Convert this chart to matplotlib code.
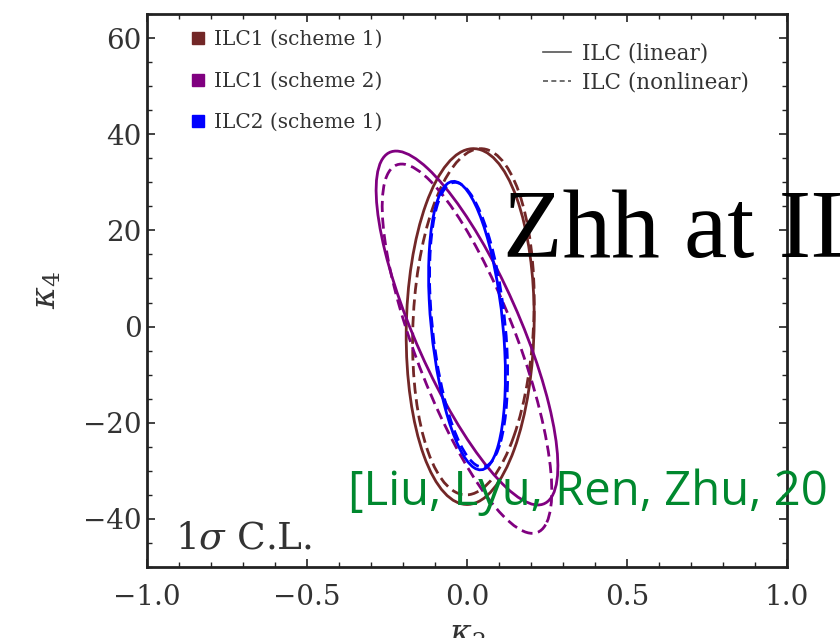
import numpy as np
import matplotlib
matplotlib.use('Agg')
import matplotlib.pyplot as plt
from matplotlib.patches import Ellipse
from matplotlib.lines import Line2D
from matplotlib.ticker import MultipleLocator, FuncFormatter
import matplotlib.transforms as transforms

plt.rcParams['font.family'] = 'DejaVu Serif'
plt.rcParams['mathtext.fontset'] = 'dejavuserif'

# 1 sigma contours:
# centre (k2, k4), half width in k2, half height in k4, correlation
labels = ['ILC1 (scheme 1)', 'ILC1 (scheme 2)', 'ILC2 (scheme 1)']
colors = ['#722727', '#800080', '#0000ff']
lin_center = [(0.01, 0.0), (0.0, -0.3), (0.0, 0.2)]
lin_half_k2 = [0.20, 0.284, 0.12]
lin_half_k4 = [37.0, 36.8, 30.0]
lin_rho = [0.05, -0.78, -0.35]
nl_center = [(0.02, 1.0), (0.0, -4.6), (0.005, 0.4)]
nl_half_k2 = [0.19, 0.265, 0.122]
nl_half_k4 = [36.0, 38.4, 29.6]
nl_rho = [0.12, -0.77, -0.35]

xticks = [-1.0, -0.5, 0.0, 0.5, 1.0]
yticks = [-40, -20, 0, 20, 40, 60]


def contour(ax, center, sx, sy, rho, color, ls):
    e = Ellipse((0, 0), width=2 * np.sqrt(1 + rho), height=2 * np.sqrt(1 - rho),
                fill=False, edgecolor=color, lw=2.0, linestyle=ls)
    tr = transforms.Affine2D().rotate_deg(45).scale(sx, sy).translate(center[0], center[1])
    e.set_transform(tr + ax.transData)
    ax.add_patch(e)


fig = plt.figure(figsize=(8.4, 6.38), dpi=100)
ax = fig.add_axes([147 / 840, 71 / 638, 640 / 840, 553 / 638])

for i in range(3):
    contour(ax, lin_center[i], lin_half_k2[i], lin_half_k4[i], lin_rho[i], colors[i], '-')
    contour(ax, nl_center[i], nl_half_k2[i], nl_half_k4[i], nl_rho[i], colors[i], (0, (4, 2)))

ax.set_xlim(-1.0, 1.0)
ax.set_ylim(-50, 65)
ax.set_xticks(xticks)
ax.set_yticks(yticks)
ax.xaxis.set_minor_locator(MultipleLocator(0.1))
ax.yaxis.set_minor_locator(MultipleLocator(5))
ax.xaxis.set_major_formatter(FuncFormatter(lambda v, p: f'{v:.1f}'.replace('-', '\u2212')))
ax.yaxis.set_major_formatter(FuncFormatter(lambda v, p: f'{v:.0f}'.replace('-', '\u2212')))
ax.tick_params(which='both', direction='in', top=True, right=True, colors='#222222',
               labelcolor='#333333')
ax.tick_params(which='major', length=6, width=1.2, labelsize=20)
ax.tick_params(which='minor', length=3.5, width=1.0)
ax.tick_params(axis='x', pad=12)
ax.tick_params(axis='y', pad=4)
for s in ax.spines.values():
    s.set_linewidth(2.0)
    s.set_color('#222222')

ax.set_xlabel(r'$\kappa_2$', fontsize=24, color='#333333', labelpad=6)
ax.set_ylabel(r'$\kappa_4$', fontsize=24, color='#333333', labelpad=14)

h1 = [Line2D([], [], marker='s', ls='none', color=c, markersize=8) for c in colors]
leg1 = ax.legend(h1, labels, loc='upper left', bbox_to_anchor=(0.067, 0.971),
                 frameon=False, fontsize=14.5, handlelength=0.8, handletextpad=0.4,
                 labelspacing=1.12, borderpad=0, borderaxespad=0, labelcolor='#333333')
ax.add_artist(leg1)
h2 = [Line2D([], [], color='#555555', lw=1.2),
      Line2D([], [], color='#555555', lw=1.2, ls=(0, (3, 2)))]
ax.legend(h2, ['ILC (linear)', 'ILC (nonlinear)'], loc='upper left',
          bbox_to_anchor=(0.619, 0.949), frameon=False, fontsize=15.5,
          handlelength=1.3, handletextpad=0.5, labelspacing=0.35, borderpad=0,
          borderaxespad=0, labelcolor='#333333')

ax.text(0.043, 0.019, r'$1\sigma$ C.L.', transform=ax.transAxes, fontsize=27,
        color='#333333', ha='left', va='bottom')

# slide overlays
fig.text(503 / 840, 1 - 257 / 638, 'Zhh at IL', fontsize=70, family='Liberation Serif',
         color='black', ha='left', va='baseline')
fig.text(348 / 840, 1 - 505 / 638, '[Liu, Lyu, Ren, Zhu, 20', fontsize=34, family='Open Sans',
         color='#00882e', ha='left', va='baseline')

fig.savefig('out.png', dpi=100)
